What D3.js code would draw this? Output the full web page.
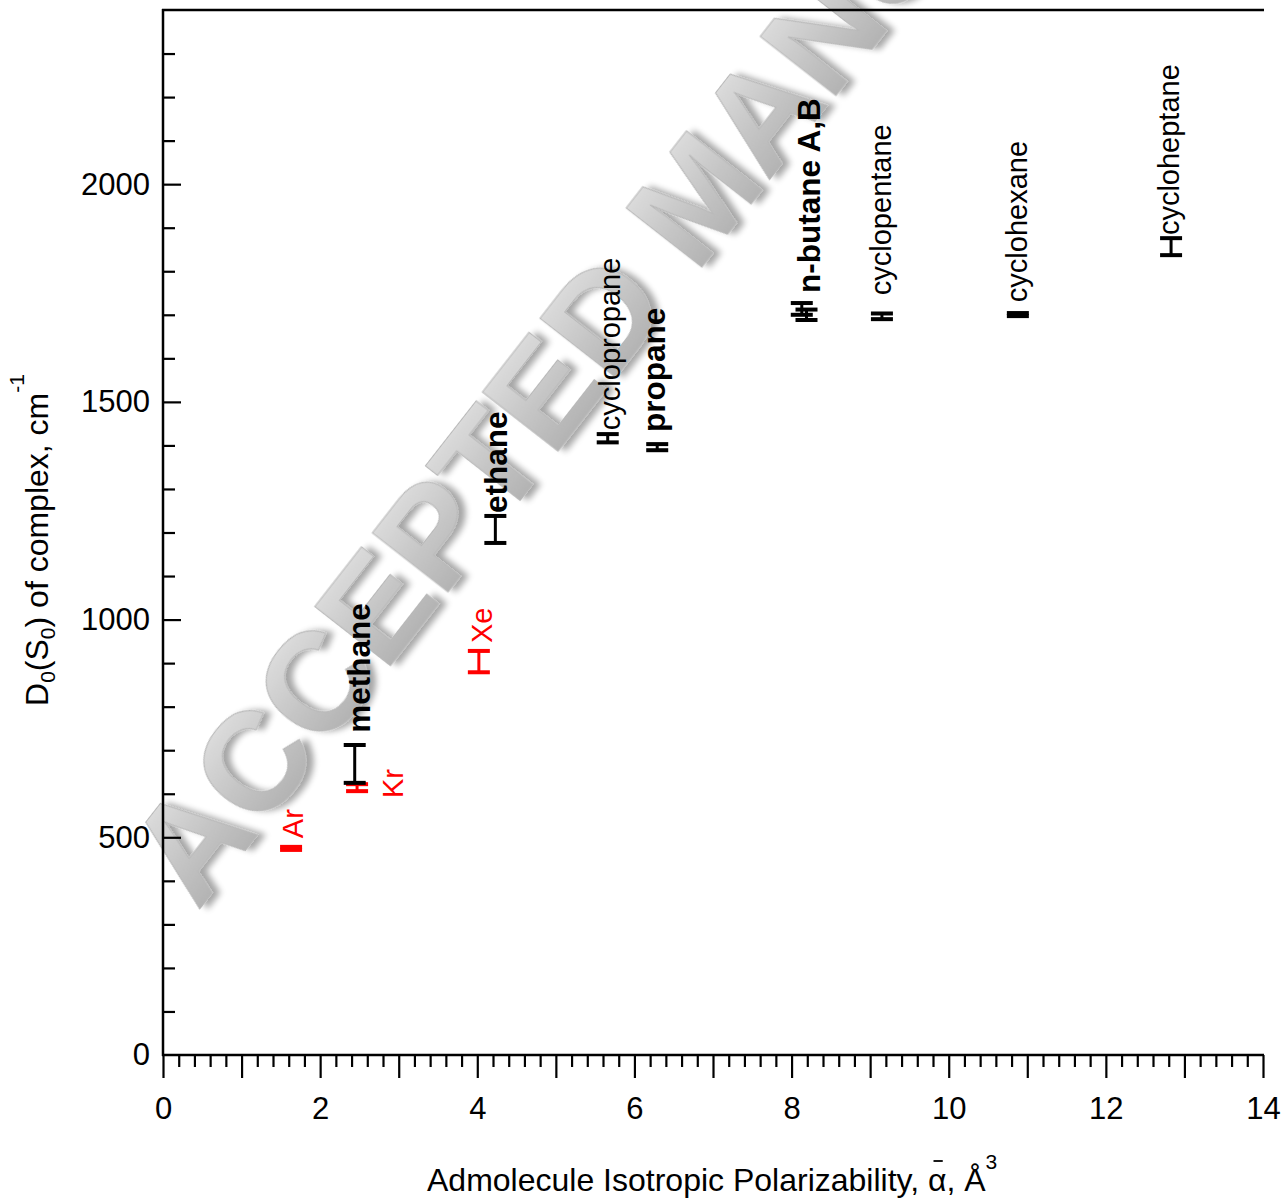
<!DOCTYPE html>
<html>
<head>
<meta charset="utf-8">
<script src="https://cdn.jsdelivr.net/npm/d3@7"></script>
<style>
  html, body { margin: 0; padding: 0; background: #fff; }
  svg { display: block; font-family: "Liberation Sans", Arial, Helvetica, sans-serif; }
</style>
</head>
<body>
<svg id="chart" width="1283" height="1198"></svg>
<script>
// ---------------- data ----------------
const names   = ["Ar", "Kr", "methane", "Xe", "ethane", "cyclopropane", "propane", "n-butane A", "n-butane B", "cyclopentane", "cyclohexane", "cycloheptane"];
const alphas  = [1.63, 2.47, 2.44, 4.02, 4.23, 5.66, 6.29, 8.13, 8.19, 9.15, 10.88, 12.83];
const d0Low   = [471, 606, 625, 879, 1176, 1407, 1389, 1700, 1688, 1690, 1697, 1837];
const d0High  = [478, 622, 712, 928, 1238, 1426, 1403, 1727, 1712, 1703, 1704, 1876];
const isRare  = [true, true, false, true, false, false, false, false, false, false, false, false];

const labelTexts = ["Ar", "Kr", "methane", "Xe", "ethane", "cyclopropane", "propane", "n-butane A,B", "cyclopentane", "cyclohexane", "cycloheptane"];
const labelAlpha = [1.78, 3.05, 2.63, 4.19, 4.38, 5.81, 6.39, 8.36, 9.27, 11.0, 12.93];
const labelD0    = [498, 590, 740, 946, 1245, 1435, 1431, 1750, 1745, 1729, 1883];
const labelBold  = [false, false, true, false, true, false, true, true, false, false, false];
const labelRare  = [true, true, false, true, false, false, false, false, false, false, false];

const xMajorTicks = [0, 2, 4, 6, 8, 10, 12, 14];
const yMajorTicks = [0, 500, 1000, 1500, 2000];
const xDomain = [0, 14];
const yDomain = [0, 2400];

// ---------------- layout ----------------
const svg = d3.select("#chart");
const L = 163, R = 1263, T = 10, B = 1055;
const x = d3.scaleLinear().domain(xDomain).range([L, R]);
const y = d3.scaleLinear().domain(yDomain).range([B, T]);
const FS = 29, FSB = 31.5, FST = 31, FSTitle = 32;
const colorOf = r => r ? "#ff0000" : "#000000";

// defs for watermark
const defs = svg.append("defs");
const grad = defs.append("linearGradient").attr("id", "wmGrad")
  .attr("x1", "0").attr("y1", "0").attr("x2", "0").attr("y2", "1");
grad.append("stop").attr("offset", "0%").attr("stop-color", "#e8e8e8");
grad.append("stop").attr("offset", "50%").attr("stop-color", "#c6c6c6");
grad.append("stop").attr("offset", "100%").attr("stop-color", "#a8a8a8");
const filt = defs.append("filter").attr("id", "wmShadow")
  .attr("x", "-10%").attr("y", "-10%").attr("width", "130%").attr("height", "130%");
filt.append("feGaussianBlur").attr("in", "SourceAlpha").attr("stdDeviation", 3).attr("result", "blur");
filt.append("feOffset").attr("in", "blur").attr("dx", 5).attr("dy", 6).attr("result", "off");
filt.append("feComponentTransfer").attr("in", "off").attr("result", "shadow")
  .append("feFuncA").attr("type", "linear").attr("slope", 0.35);
const fm = filt.append("feMerge");
fm.append("feMergeNode").attr("in", "shadow");
fm.append("feMergeNode").attr("in", "SourceGraphic");

// ---------------- watermark (behind axes) ----------------
svg.append("text")
  .attr("transform", "translate(198,912) rotate(-52)")
  .attr("font-size", 140)
  .attr("font-weight", "bold")
  .attr("fill", "url(#wmGrad)")
  .attr("stroke", "#b8b8b8").attr("stroke-width", 1)
  .attr("filter", "url(#wmShadow)")
  .text("ACCEPTED MANUSCRIPT");

// ---------------- axes ----------------
const xMinor = d3.range(0, 14.0001, 0.2).map(v => +v.toFixed(1)).filter(v => Math.abs(v - Math.round(v)) > 1e-6);
const xMajor1 = d3.range(0, 15, 1);

const gx = svg.append("g").attr("transform", `translate(0,${B})`);
gx.append("g").call(d3.axisBottom(x).tickValues(xMinor).tickSize(12).tickFormat(""))
  .call(g => g.select(".domain").remove());
gx.append("g").call(d3.axisBottom(x).tickValues(xMajor1).tickSize(23).tickFormat(""))
  .call(g => g.select(".domain").remove());
gx.append("g").call(d3.axisBottom(x).tickValues(xMajorTicks).tickSize(0).tickPadding(42).tickFormat(d3.format("d")))
  .call(g => g.select(".domain").remove())
  .call(g => g.selectAll("text").attr("font-size", FST).attr("fill", "#000").attr("font-family", null));
gx.selectAll("line").attr("stroke", "#000").attr("stroke-width", 2.2);

const yMinor = d3.range(100, 2400, 100).filter(v => v % 500 !== 0);
const gy = svg.append("g").attr("transform", `translate(${L},0)`);
gy.append("g").call(d3.axisLeft(y).tickValues(yMinor).tickSize(-12).tickFormat(""))
  .call(g => g.select(".domain").remove());
gy.append("g").call(d3.axisLeft(y).tickValues(yMajorTicks.filter(v => v > 0)).tickSize(-18).tickFormat(""))
  .call(g => g.select(".domain").remove());
gy.append("g").call(d3.axisLeft(y).tickValues(yMajorTicks).tickSize(0).tickPadding(13).tickFormat(d3.format("d")))
  .call(g => g.select(".domain").remove())
  .call(g => g.selectAll("text").attr("font-size", FST).attr("fill", "#000").attr("font-family", null));
gy.selectAll("line").attr("stroke", "#000").attr("stroke-width", 2.2);

// frame lines
svg.append("line").attr("x1", L).attr("x2", L).attr("y1", T - 1).attr("y2", B + 1)
  .attr("stroke", "#000").attr("stroke-width", 2.5);
svg.append("line").attr("x1", L - 1).attr("x2", R + 1).attr("y1", B).attr("y2", B)
  .attr("stroke", "#000").attr("stroke-width", 2.5);
svg.append("line").attr("x1", L - 1).attr("x2", R + 1).attr("y1", T).attr("y2", T)
  .attr("stroke", "#000").attr("stroke-width", 2.5);

// ---------------- axis titles ----------------
const xt = svg.append("text").attr("x", 427).attr("y", 1191).attr("font-size", FSTitle).attr("fill", "#000");
xt.append("tspan").text("Admolecule Isotropic Polarizability, ");
xt.append("tspan").text("α");
xt.append("tspan").text(", Å");
xt.append("tspan").attr("font-size", 21).attr("dy", -22).text("3");
// overbar above alpha
{
  const node = xt.node();
  const idx = "Admolecule Isotropic Polarizability, ".length;
  const ext = node.getExtentOfChar(idx);
  svg.append("line")
    .attr("x1", ext.x + ext.width * 0.3).attr("x2", ext.x + ext.width * 0.8)
    .attr("y1", 1161).attr("y2", 1161)
    .attr("stroke", "#000").attr("stroke-width", 1.8);
}

const yt = svg.append("text").attr("transform", "translate(48,540) rotate(-90)")
  .attr("text-anchor", "middle").attr("font-size", FSTitle).attr("fill", "#000");
yt.append("tspan").text("D");
yt.append("tspan").attr("font-size", 21).attr("dy", 7).text("0");
yt.append("tspan").attr("dy", -7).text("(S");
yt.append("tspan").attr("font-size", 21).attr("dy", 7).text("0");
yt.append("tspan").attr("dy", -7).text(") of complex, cm");
yt.append("tspan").attr("font-size", 21).attr("dy", -24).text("-1");

// ---------------- error bars ----------------
const data = names.map((n, i) => ({ name: n, a: alphas[i], lo: d0Low[i], hi: d0High[i], rare: isRare[i] }));
const cap = 11;
const bars = svg.append("g").selectAll("g").data(data).join("g")
  .attr("stroke", d => colorOf(d.rare)).attr("fill", "none");
bars.append("line").attr("stroke-width", 3)
  .attr("x1", d => x(d.a)).attr("x2", d => x(d.a))
  .attr("y1", d => y(d.hi)).attr("y2", d => y(d.lo));
bars.append("line").attr("stroke-width", 4)
  .attr("x1", d => x(d.a) - cap).attr("x2", d => x(d.a) + cap)
  .attr("y1", d => y(d.hi)).attr("y2", d => y(d.hi));
bars.append("line").attr("stroke-width", 4)
  .attr("x1", d => x(d.a) - cap).attr("x2", d => x(d.a) + cap)
  .attr("y1", d => y(d.lo)).attr("y2", d => y(d.lo));

// ---------------- labels ----------------
const labels = labelTexts.map((t, i) => ({ t, a: labelAlpha[i], d: labelD0[i], bold: labelBold[i], rare: labelRare[i] }));
svg.append("g").selectAll("text").data(labels).join("text")
  .attr("transform", d => `translate(${x(d.a)},${y(d.d)}) rotate(-90)`)
  .attr("font-size", d => d.bold ? FSB : FS)
  .attr("font-weight", d => d.bold ? "bold" : "normal")
  .attr("fill", d => colorOf(d.rare))
  .text(d => d.t);
</script>
</body>
</html>
